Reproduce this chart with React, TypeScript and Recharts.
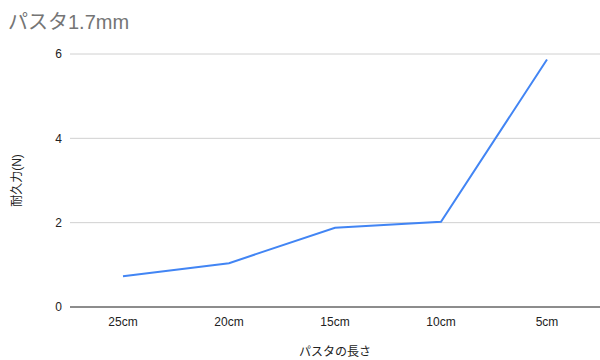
import { LineChart, Line, XAxis, YAxis, CartesianGrid } from 'recharts';

const lengths = ['25cm', '20cm', '15cm', '10cm', '5cm'];
const strength = [0.73, 1.04, 1.88, 2.02, 5.87];
const yTicks = [0, 2, 4, 6];

const data = lengths.map((len, i) => ({ len, value: strength[i] }));

const font = '"Liberation Sans", Arial, "Noto Sans CJK JP", sans-serif';

const App: React.FC = () => {
  return (
    <div style={{ position: 'absolute', top: 0, left: 0, width: 600, height: 360, background: '#fff', fontFamily: font }}>
      <div style={{ position: 'absolute', left: 8, top: 6, fontSize: 20, color: '#757575' }}>パスタ1.7mm</div>
      <LineChart
        width={600}
        height={360}
        data={data}
        margin={{ top: 54, right: 0, left: 0, bottom: 0 }}
      >
        <CartesianGrid vertical={false} stroke="#d0d0d0" />
        <XAxis
          dataKey="len"
          height={53}
          padding={{ left: 53, right: 53 }}
          tickSize={0}
          tickMargin={10}
          axisLine={{ stroke: '#333', strokeWidth: 1 }}
          tick={{ fill: '#222', fontSize: 12, fontFamily: font }}
          label={{ value: 'パスタの長さ', position: 'insideBottom', offset: 4, fill: '#222', fontSize: 12, fontFamily: font }}
        />
        <YAxis
          width={70}
          domain={[0, 6]}
          ticks={yTicks}
          axisLine={false}
          tickLine={false}
          tickSize={0}
          tickMargin={8}
          tick={{ fill: '#222', fontSize: 12, fontFamily: font }}
          label={{ value: '耐久力(N)', angle: -90, position: 'insideLeft', offset: 17, fill: '#222', fontSize: 12, fontFamily: font, style: { textAnchor: 'middle' } }}
        />
        <Line type="linear" dataKey="value" stroke="#4285F4" strokeWidth={2} dot={false} isAnimationActive={false} />
      </LineChart>
    </div>
  );
};

export default App;
